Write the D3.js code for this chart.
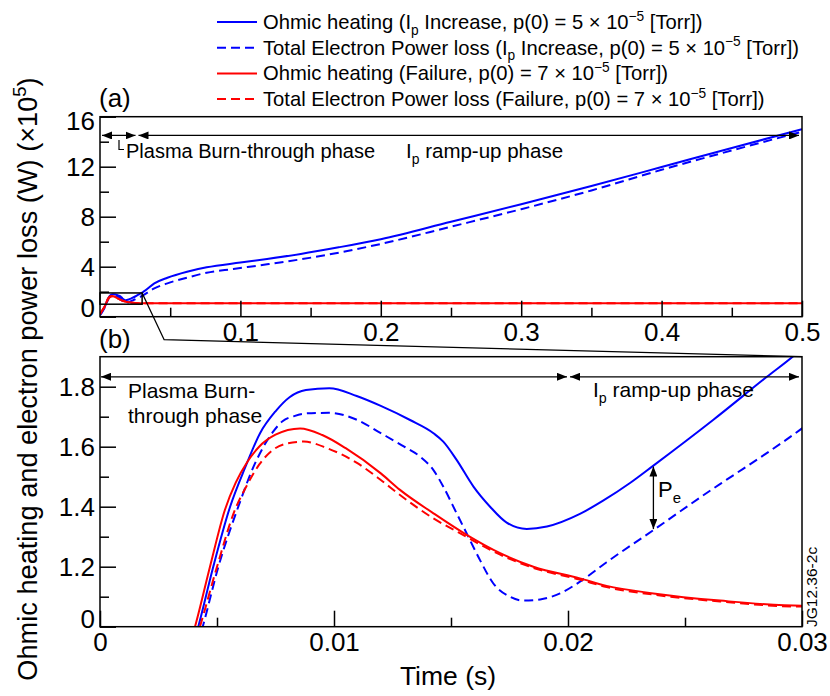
<!DOCTYPE html>
<html>
<head>
<meta charset="utf-8">
<script src="https://cdn.jsdelivr.net/npm/d3@7"></script>
<style>
body { margin: 0; background: #fff; }
svg { font-family: "Liberation Sans", Arial, sans-serif; }
</style>
</head>
<body>
<div id="main"><svg width="830" height="696"></svg></div>
<script>
// each series: [time (s), power (x10^5 W)]
var ohmicIncrease = [
  [0, 0.15], [0.002, 0.52], [0.0034, 0.8], [0.0042, 1.0], [0.00484, 1.2], [0.00556, 1.4],
  [0.0062, 1.53], [0.00684, 1.645], [0.0075, 1.718], [0.0081, 1.765], [0.0088, 1.789],
  [0.0098, 1.795], [0.01097, 1.769], [0.012, 1.736], [0.01325, 1.689], [0.01425, 1.645],
  [0.01467, 1.617], [0.01524, 1.556], [0.01596, 1.467], [0.01667, 1.4], [0.01738, 1.347],
  [0.01824, 1.326], [0.0191, 1.334], [0.02051, 1.376], [0.0215, 1.42], [0.02265, 1.479],
  [0.02365, 1.537], [0.0262, 1.689], [0.0285, 1.833], [0.0296, 1.9], [0.031, 2.0],
  [0.0387, 2.67], [0.048, 3.12], [0.062, 3.6], [0.076, 3.95], [0.1, 4.33], [0.119, 4.62],
  [0.143, 5.02], [0.17, 5.55], [0.2, 6.2], [0.25, 7.6], [0.3, 9.0], [0.35, 10.45],
  [0.4, 11.97], [0.45, 13.5], [0.5, 15.0]
];
var lossIncrease = [
  [0, 0.12], [0.002, 0.45], [0.0035, 0.78], [0.00439, 1.0], [0.00506, 1.2], [0.00591, 1.4],
  [0.0066, 1.54], [0.0074, 1.65], [0.0078, 1.685], [0.0083, 1.702], [0.0088, 1.711],
  [0.0098, 1.713], [0.011, 1.689], [0.012, 1.645], [0.013, 1.6], [0.01368, 1.567],
  [0.01425, 1.522], [0.01467, 1.467], [0.01524, 1.378], [0.01567, 1.311], [0.01624, 1.222],
  [0.01681, 1.144], [0.01752, 1.1], [0.01809, 1.087], [0.01881, 1.091], [0.01966, 1.111],
  [0.02051, 1.15], [0.02165, 1.215], [0.02365, 1.322], [0.0262, 1.46], [0.02678, 1.49],
  [0.03, 1.661], [0.0387, 2.27], [0.048, 2.67], [0.062, 3.12], [0.076, 3.52], [0.095, 3.82],
  [0.119, 4.19], [0.143, 4.59], [0.17, 5.12], [0.2, 5.82], [0.25, 7.2], [0.3, 8.6],
  [0.35, 10.1], [0.4, 11.75], [0.45, 13.3], [0.5, 14.8]
];
var ohmicFailure = [
  [0, 0.2], [0.002, 0.6], [0.0033, 0.82], [0.00406, 1.0], [0.0047, 1.2], [0.00534, 1.39],
  [0.0058, 1.48], [0.0063, 1.55], [0.0068, 1.6], [0.0075, 1.64], [0.00855, 1.661],
  [0.0095, 1.639], [0.0105, 1.595], [0.012, 1.511], [0.01282, 1.456], [0.01425, 1.378],
  [0.01567, 1.306], [0.0171, 1.245], [0.01852, 1.2], [0.02051, 1.161], [0.02165, 1.136],
  [0.02365, 1.111], [0.0265, 1.087], [0.03, 1.07], [0.04, 1.075], [0.1, 1.08], [0.5, 1.08]
];
var lossFailure = [
  [0, 0.18], [0.002, 0.55], [0.0034, 0.8], [0.00427, 1.0], [0.005, 1.2], [0.00577, 1.39],
  [0.00627, 1.47], [0.0068, 1.54], [0.0074, 1.59], [0.008, 1.611], [0.00871, 1.617],
  [0.00971, 1.595], [0.011, 1.545], [0.012, 1.489], [0.01282, 1.439], [0.01425, 1.361],
  [0.0153, 1.315], [0.0171, 1.24], [0.01852, 1.196], [0.02051, 1.157], [0.02165, 1.132],
  [0.02365, 1.107], [0.0265, 1.084], [0.03, 1.067], [0.04, 1.072], [0.1, 1.077], [0.5, 1.077]
];

// ticks
var aXMajor = [0.1, 0.2, 0.3, 0.4, 0.5];
var aXMinor = [0.05, 0.15, 0.25, 0.35, 0.45];
var aYMajor = [0, 4, 8, 12, 16];
var aYMinor = [2, 6, 10, 14];
var bXMajor = [0, 0.01, 0.02, 0.03];
var bXLabels = ['0', '0.01', '0.02', '0.03'];
var bXMinor = [0.005, 0.015, 0.025];
var bYMajor = [1.0, 1.2, 1.4, 1.6, 1.8];
var bYLabels = ['0', '1.2', '1.4', '1.6', '1.8'];
var bYMinor = [1.1, 1.3, 1.5, 1.7];

// legend text pieces: [text, '' | 'sub' | 'sup']
var legendLabels = [
  [['Ohmic heating (I', ''], ['p', 'sub'], [' Increase, p(0) = 5 \u00d7 10', ''], ['\u22125', 'sup'], [' [Torr])', '']],
  [['Total Electron Power loss (I', ''], ['p', 'sub'], [' Increase, p(0) = 5 \u00d7 10', ''], ['\u22125', 'sup'], [' [Torr])', '']],
  [['Ohmic heating (Failure, p(0) = 7 \u00d7 10', ''], ['\u22125', 'sup'], [' [Torr])', '']],
  [['Total Electron Power loss (Failure, p(0) = 7 \u00d7 10', ''], ['\u22125', 'sup'], [' [Torr])', '']]
];

// phase boundaries (s) for the arrows, and time of the P_e marker
var aPhaseSplit = 0.026;
var bPhaseSplit = 0.02;
var peT = 0.02365;

var series = [ohmicIncrease, lossIncrease, ohmicFailure, lossFailure];
var seriesStyle = [
  {color: '#0000ff', dash: null},
  {color: '#0000ff', dash: '9,5'},
  {color: '#ff0000', dash: null},
  {color: '#ff0000', dash: '9,5'}
];

var svg = d3.select('#main svg');

var L = 100, R = 802;
var aTop = 116.7, aBot = 316.7;
var bTop = 356.7, bBot = 626.7;

var aX = d3.scaleLinear().domain([0, 0.5]).range([L, R]);
var aY = d3.scaleLinear().domain([0, 16]).range([aBot, aTop]);
var bX = d3.scaleLinear().domain([0, 0.03]).range([L, R]);
var bY = d3.scaleLinear().domain([1.0, 1.9]).range([bBot, bTop]);

var defs = svg.append('defs');
defs.append('clipPath').attr('id', 'clipA').append('rect')
  .attr('x', L).attr('y', aTop).attr('width', R - L).attr('height', aBot - aTop);
defs.append('clipPath').attr('id', 'clipB').append('rect')
  .attr('x', L).attr('y', bTop).attr('width', R - L).attr('height', bBot - bTop);
defs.append('marker')
  .attr('id', 'head')
  .attr('markerUnits', 'userSpaceOnUse')
  .attr('markerWidth', 11).attr('markerHeight', 8)
  .attr('refX', 10).attr('refY', 4)
  .attr('orient', 'auto-start-reverse')
  .append('path')
  .attr('d', 'M0,0 L10,4 L0,8 Z')
  .attr('fill', '#000');

function richText(sel, parts, size) {
  var shift = 0;
  parts.forEach(function(p) {
    var s = 0, fs = size;
    if (p[1] == 'sub') { s = size * 0.28; fs = size * 0.68; }
    if (p[1] == 'sup') { s = -size * 0.42; fs = size * 0.68; }
    sel.append('tspan')
      .attr('dy', s - shift)
      .attr('font-size', fs)
      .text(p[0]);
    shift = s;
  });
}

// linear lookup of a series value at time t
function valueAt(data, t) {
  var i = d3.bisector(function(d) { return d[0]; }).left(data, t);
  var a = data[i - 1], b = data[i];
  return a[1] + (b[1] - a[1]) * (t - a[0]) / (b[0] - a[0]);
}

function drawCurves(g, x, y, clipId) {
  var line = d3.line()
    .x(function(d) { return x(d[0]); })
    .y(function(d) { return y(d[1]); })
    .curve(d3.curveMonotoneX);

  g.append('g')
    .attr('clip-path', 'url(#' + clipId + ')')
    .selectAll('path')
    .data(series)
    .enter().append('path')
    .attr('d', line)
    .attr('fill', 'none')
    .attr('stroke', function(d, i) { return seriesStyle[i].color; })
    .attr('stroke-width', 2)
    .attr('stroke-dasharray', function(d, i) { return seriesStyle[i].dash; });
}

function styleAxis(ax) {
  ax.attr('font-family', null).attr('font-size', 26);
  ax.select('.domain').remove();
  ax.selectAll('.tick line').attr('stroke', '#000').attr('stroke-width', 1.5);
  ax.selectAll('.tick text').attr('fill', '#000');
  return ax;
}

function drawAxes(g, x, y, top, bot, xMaj, xMin, xFmt, yMaj, yMin, yFmt) {
  var xa = g.append('g').attr('transform', 'translate(0,' + bot + ')')
    .call(d3.axisBottom(x).tickValues(xMaj).tickSize(-16).tickPadding(6).tickFormat(xFmt));
  styleAxis(xa);
  var xm = g.append('g').attr('transform', 'translate(0,' + bot + ')')
    .call(d3.axisBottom(x).tickValues(xMin).tickSize(-9).tickFormat(''));
  styleAxis(xm);

  var ya = g.append('g').attr('transform', 'translate(' + L + ',0)')
    .call(d3.axisLeft(y).tickValues(yMaj).tickSize(-16).tickPadding(5).tickFormat(yFmt));
  styleAxis(ya);
  var ym = g.append('g').attr('transform', 'translate(' + L + ',0)')
    .call(d3.axisLeft(y).tickValues(yMin).tickSize(-9).tickFormat(''));
  styleAxis(ym);

  g.append('rect')
    .attr('x', L).attr('y', top)
    .attr('width', R - L).attr('height', bot - top)
    .attr('fill', 'none')
    .attr('stroke', '#000')
    .attr('stroke-width', 1.5);
  return ya;
}

function arrow(g, x1, y1, x2, y2) {
  g.append('line')
    .attr('x1', x1).attr('y1', y1).attr('x2', x2).attr('y2', y2)
    .attr('stroke', '#000').attr('stroke-width', 1.3)
    .attr('marker-start', 'url(#head)')
    .attr('marker-end', 'url(#head)');
}

// ---- panel (a)
var cellA = svg.append('g');
drawCurves(cellA, aX, aY, 'clipA');
var yaA = drawAxes(cellA, aX, aY, aTop, aBot, aXMajor, aXMinor, d3.format('.1f'),
  aYMajor, aYMinor, d3.format('d'));
yaA.selectAll('.tick text').filter(function(d) { return d == 0; }).attr('y', -9);
yaA.selectAll('.tick text').filter(function(d) { return d == 16; }).attr('y', 4);

// zoom box of panel (b) range
cellA.append('rect')
  .attr('x', aX(0)).attr('y', aY(bY.domain()[1]))
  .attr('width', aX(bX.domain()[1]) - aX(0))
  .attr('height', aY(bY.domain()[0]) - aY(bY.domain()[1]))
  .attr('fill', 'none').attr('stroke', '#000').attr('stroke-width', 1.5);
cellA.append('path')
  .attr('d', 'M' + [aX(bX.domain()[1]), aY(bY.domain()[1])] +
    'L' + [aX(bX.domain()[1]) + 22, bTop - 17] + 'L' + [R, bTop])
  .attr('fill', 'none').attr('stroke', '#000').attr('stroke-width', 1.3);

var arrowAY = aY(14.5);
arrow(cellA, aX(0) + 2, arrowAY, aX(aPhaseSplit) - 1, arrowAY);
arrow(cellA, aX(aPhaseSplit) + 2, arrowAY, R - 3, arrowAY);
cellA.append('path')
  .attr('d', 'M119,140V149.5H124')
  .attr('fill', 'none').attr('stroke', '#000').attr('stroke-width', 1.2);
cellA.append('text').attr('x', 126).attr('y', 158).attr('font-size', 20)
  .text('Plasma Burn-through phase');
richText(cellA.append('text').attr('x', 406).attr('y', 158),
  [['I', ''], ['p', 'sub'], [' ramp-up phase', '']], 20.5);
cellA.append('text').attr('x', 99).attr('y', 107).attr('font-size', 26).text('(a)');

// ---- panel (b)
var cellB = svg.append('g');
drawCurves(cellB, bX, bY, 'clipB');
var yaB = drawAxes(cellB, bX, bY, bTop, bBot, bXMajor, bXMinor,
  function(d, i) { return bXLabels[i]; },
  bYMajor, bYMinor, function(d, i) { return bYLabels[i]; });
yaB.selectAll('.tick text').filter(function(d) { return d == 1.0; }).attr('y', -8);

var arrowBY = bY(1.833);
arrow(cellB, bX(0) + 1, arrowBY, bX(bPhaseSplit) - 1, arrowBY);
arrow(cellB, bX(bPhaseSplit) + 2, arrowBY, R - 3, arrowBY);
cellB.append('text').attr('x', 128).attr('y', 398).attr('font-size', 21).text('Plasma Burn-');
cellB.append('text').attr('x', 128).attr('y', 423).attr('font-size', 21).text('through phase');
richText(cellB.append('text').attr('x', 593).attr('y', 397),
  [['I', ''], ['p', 'sub'], [' ramp-up phase', '']], 21);
cellB.append('text').attr('x', 99).attr('y', 348).attr('font-size', 26).text('(b)');

// P_e gap between heating and loss
arrow(cellB, bX(peT), bY(valueAt(ohmicIncrease, peT)) + 1,
  bX(peT), bY(valueAt(lossIncrease, peT)) - 1);
richText(cellB.append('text').attr('x', 658).attr('y', 497),
  [['P', ''], ['e', 'sub']], 22);

cellB.append('text')
  .attr('transform', 'translate(817,627) rotate(-90)')
  .attr('font-size', 15.5)
  .text('JG12.36-2c');

// ---- axis titles
svg.append('text')
  .attr('x', 448).attr('y', 685)
  .attr('text-anchor', 'middle')
  .attr('font-size', 26.5)
  .text('Time (s)');
richText(svg.append('text')
  .attr('transform', 'translate(37,379) rotate(-90)')
  .attr('text-anchor', 'middle'),
  [['Ohmic heating and electron power loss (W) (\u00d710', ''], ['5', 'sup'], [')', '']], 27.2);

// ---- legend
var legend = svg.append('g');
var legendRows = legend.selectAll('g').data(legendLabels)
  .enter().append('g')
  .attr('transform', function(d, i) { return 'translate(0,' + (29 + i * 25.7) + ')'; });
legendRows.append('line')
  .attr('x1', 217).attr('x2', 257).attr('y1', -7).attr('y2', -7)
  .attr('stroke', function(d, i) { return seriesStyle[i].color; })
  .attr('stroke-width', 2)
  .attr('stroke-dasharray', function(d, i) { return seriesStyle[i].dash; });
legendRows.each(function(d) {
  richText(d3.select(this).append('text').attr('x', 263).attr('y', 0), d, 20.2);
});
</script>
</body>
</html>
